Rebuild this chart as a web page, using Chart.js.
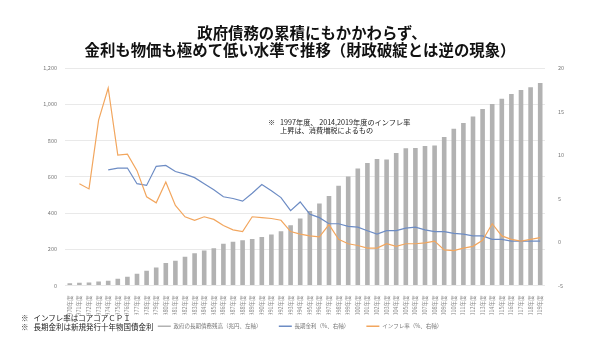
<!DOCTYPE html>
<html>
<head>
<meta charset="utf-8">
<script src="https://cdn.jsdelivr.net/npm/chart.js@4"></script>
<style>
  body { margin: 0; background: #fff; }
  #wrap { position: relative; width: 600px; height: 339px; overflow: hidden; font-family: "Noto Sans CJK JP", "Noto Sans", sans-serif; }
  #chart { position: absolute; left: 0; top: 0; }
  .title { position: absolute; left: 0; width: 600px; text-align: center; font-size: 15.4px; line-height: 17px; font-weight: 700; color: #111; }
  .note { position: absolute; color: #222; white-space: nowrap; }
</style>
</head>
<body>
<div id="wrap">
  <canvas id="chart" width="600" height="339"></canvas>
  <div class="title" style="top:24px; left:12px;">政府債務の累積にもかかわらず、</div>
  <div class="title" style="top:41px;">金利も物価も極めて低い水準で推移（財政破綻とは逆の現象）</div>
  <div class="note" style="left:268px; top:119px; font-size:7.2px; line-height:7.5px;">※&nbsp;&nbsp;&nbsp;1997年度、 2014,2019年度のインフレ率<br><span style="padding-left:12px">上昇は、消費増税によるもの</span></div>
  <div class="note" style="left:21px; top:314px; font-size:7.5px; line-height:8.5px;">※&nbsp;&nbsp;&nbsp;インフレ率はコアコアＣＰＩ<br>※&nbsp;&nbsp;&nbsp;長期金利は新規発行十年物国債金利</div>
</div>
<script>
const years = [];
for (let y = 1970; y <= 2019; y++) years.push(y + '年度');

// 政府の長期債務残高（兆円）
const debt = [13, 15, 17, 22, 26, 37, 48, 65, 81, 100,
  124, 137, 159, 178, 193, 206, 230, 241, 250, 257,
  268, 281, 300, 333, 370, 411, 452, 494, 550, 602,
  646, 676, 698, 695, 731, 757, 759, 770, 772, 820,
  865, 896, 933, 974, 1002, 1031, 1056, 1078, 1094, 1117];

// 長期金利（%）
const interest = [null, null, null, null, 8.3, 8.5, 8.5, 6.7, 6.5, 8.7,
  8.8, 8.1, 7.8, 7.4, 6.7, 6.0, 5.2, 5.0, 4.7, 5.6,
  6.6, 5.9, 5.1, 3.6, 4.6, 3.2, 2.8, 2.1, 2.1, 1.8,
  1.7, 1.3, 0.9, 1.3, 1.3, 1.6, 1.7, 1.4, 1.2, 1.2,
  1.0, 0.9, 0.7, 0.7, 0.3, 0.3, 0.1, 0.1, 0.1, 0.1];

// インフレ率（%）
const inflation = [null, 6.7, 6.1, 14.0, 17.7, 10.0, 10.1, 8.2, 5.2, 4.5,
  6.9, 4.2, 2.9, 2.5, 2.9, 2.6, 1.9, 1.4, 1.2, 2.9,
  2.8, 2.7, 2.5, 1.2, 0.9, 0.7, 0.6, 2.0, 0.3, -0.2,
  -0.4, -0.7, -0.7, -0.2, -0.5, -0.2, -0.2, -0.1, 0.1, -0.9,
  -1.0, -0.7, -0.5, 0.2, 2.1, 0.7, 0.3, 0.1, 0.3, 0.5];

const leftTicks = [0, 200, 400, 600, 800, 1000, 1200];
const rightTicks = [-5, 0, 5, 10, 15, 20];

const seriesNames = ['政府の長期債務残高（兆円、左軸）', '長期金利（%、右軸）', 'インフレ率（%、右軸）'];
const colors = ['#b2b2b2', '#6d8cc4', '#f2a65e'];

const tickFont = { family: '"Noto Sans CJK JP", "Noto Sans", sans-serif', size: 5.5 };

new Chart(document.getElementById('chart').getContext('2d'), {
  data: {
    labels: years,
    datasets: [
      {
        type: 'line', label: seriesNames[1], data: interest, yAxisID: 'yR',
        borderColor: colors[1], borderWidth: 1.2, pointRadius: 0, tension: 0, order: 1
      },
      {
        type: 'line', label: seriesNames[2], data: inflation, yAxisID: 'yR',
        borderColor: colors[2], borderWidth: 1.2, pointRadius: 0, tension: 0, order: 0
      },
      {
        type: 'bar', label: seriesNames[0], data: debt, yAxisID: 'yL',
        backgroundColor: colors[0], borderWidth: 0,
        barPercentage: 0.48, categoryPercentage: 1, order: 2
      }
    ]
  },
  options: {
    responsive: false,
    animation: false,
    layout: { padding: { top: 68, bottom: 0 } },
    plugins: {
      title: { display: false },
      tooltip: { enabled: false },
      legend: {
        position: 'bottom',
        labels: {
          font: tickFont,
          color: '#777',
          usePointStyle: true,
          pointStyle: 'line',
          pointStyleWidth: 13,
          padding: 9,
          // extra full-width spaces widen the gap between legend items
          generateLabels: () => [0, 1, 2].map((i) => ({
            text: i < 2 ? seriesNames[i] + '\u3000\u3000' : seriesNames[i],
            strokeStyle: colors[i],
            fillStyle: colors[i],
            lineWidth: 1.5,
            pointStyle: 'line',
            fontColor: '#777',
            datasetIndex: i === 0 ? 2 : i - 1
          }))
        }
      }
    },
    scales: {
      x: {
        grid: { display: false },
        border: { display: false },
        ticks: { font: tickFont, color: '#888', autoSkip: false, minRotation: 90, maxRotation: 90, padding: 2 },
        afterFit: (scale) => { scale.height = 29; }
      },
      yL: {
        position: 'left',
        min: 0, max: 1200,
        afterBuildTicks: (scale) => { scale.ticks = leftTicks.map((v) => ({ value: v })); },
        grid: { color: '#e9e9e9', drawTicks: false },
        border: { display: false },
        ticks: { font: tickFont, color: '#777', padding: 8, callback: (v) => v.toLocaleString('en-US') },
        afterFit: (scale) => { scale.width = 65; }
      },
      yR: {
        position: 'right',
        min: -5, max: 20,
        afterBuildTicks: (scale) => { scale.ticks = rightTicks.map((v) => ({ value: v })); },
        grid: { display: false },
        border: { display: false },
        ticks: { font: tickFont, color: '#777', padding: 5 },
        afterFit: (scale) => { scale.width = 55; }
      }
    }
  }
});
</script>
</body>
</html>
